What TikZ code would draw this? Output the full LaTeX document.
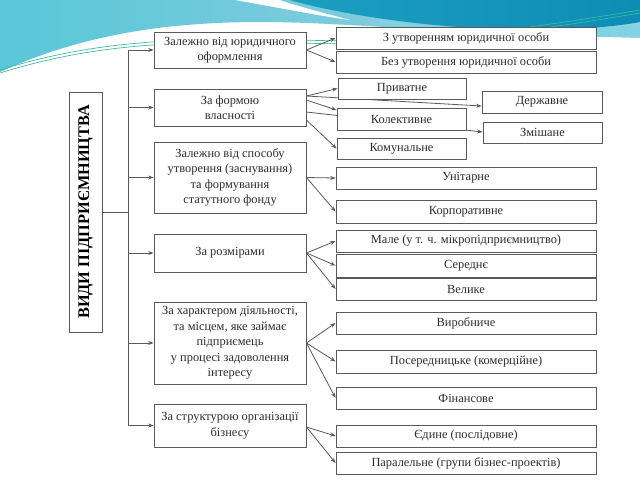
\documentclass[tikz,border=0pt]{standalone}
\usepackage{fontspec}
\setmainfont{Liberation Serif}
\usetikzlibrary{arrows.meta,calc}
\pgfdeclarelayer{back}
\pgfdeclarelayer{bg}
\pgfsetlayers{back,bg,main}
\definecolor{edge}{HTML}{5A5A5A}
\definecolor{txt}{HTML}{2E2E2E}
\definecolor{swA}{HTML}{58C7D8}
\definecolor{swB}{HTML}{9CCFE2}
\definecolor{swC}{HTML}{1C9EC3}
\definecolor{swD}{HTML}{0E8DB4}
\definecolor{swE}{HTML}{7FD3E3}
\definecolor{swL}{HTML}{3DB7A6}
\newcommand\bx[6]{\node[box, minimum width={(#4-#2)*0.75pt}, minimum height={(#5-#3)*0.75pt}] (#1) at ({(#2+#4)/2},{(#3+#5)/2}) {#6};}
\begin{document}
\begin{tikzpicture}[x=0.75pt,y=-0.75pt,
  box/.style={draw=edge, line width=0.7pt, fill=white, inner sep=0pt, align=center, text=txt, font=\fontsize{9.3}{11.6}\selectfont},
  arr/.style={draw=edge, line width=0.6pt, -{Stealth[length=4pt,width=3pt]}},
  ln/.style={draw=edge, line width=0.7pt}]
\useasboundingbox (0,0) rectangle (640,480);
\begin{pgfonlayer}{back}
\fill[white] (0,0) rectangle (640,480);
% decorative swoosh
\shade[left color=swA, right color=swB] (0,0) -- (0,72) .. controls (70,40) and (150,22) .. (260,22) .. controls (340,22) and (420,32) .. (640,38) -- (640,0) -- cycle;
\fill[swE] (380,20) .. controls (450,30) and (560,34) .. (640,24) -- (640,36) .. controls (560,38) and (450,32) .. (380,24) -- cycle;
\fill[white] (235,0) .. controls (280,8) and (320,16) .. (350,20) .. controls (320,12) and (290,4) .. (280,0) -- cycle;
\shade[left color=swC, right color=swD] (290,0) .. controls (330,12) and (420,28) .. (520,30) .. controls (580,30) and (620,26) .. (640,22) -- (640,0) -- cycle;
\draw[swL, line width=0.5pt] (0,70) .. controls (80,45) and (160,36) .. (300,40) .. controls (420,44) and (520,30) .. (640,10);
\draw[swL, line width=0.5pt] (0,73) .. controls (80,48) and (160,39) .. (300,43) .. controls (420,47) and (520,33) .. (640,13);
\end{pgfonlayer}

% main box
\bx{main}{69}{92}{102}{332}{}
\node[rotate=90, font=\bfseries\fontsize{12.2}{13}\selectfont, text=black, inner sep=0pt] (maintext) at (main.center) {ВИДИ ПІДПРИЄМНИЦТВА};

% level 1
\bx{b1}{154}{32}{306}{68}{Залежно від юридичного\\оформлення}
\bx{b2}{154}{89}{306}{126}{За формою\\власності}
\bx{b3}{154}{142}{306}{213}{Залежно від способу\\утворення (заснування)\\та формування\\статутного фонду}
\bx{b4}{154}{234}{306}{272}{За розмірами}
\bx{b5}{154}{302}{306}{384}{За характером діяльності,\\та місцем, яке займає\\підприємець\\у процесі задоволення\\інтересу}
\bx{b6}{154}{404}{306}{447}{За структурою організації\\бізнесу}

% level 2
\bx{c1}{336}{27}{596}{49}{З утворенням юридичної особи}
\bx{c2}{336}{51}{596}{73}{Без утворення юридичної особи}
\bx{p}{338}{78}{466}{99}{Приватне}
\bx{d}{482}{91}{602}{113}{Державне}
\bx{k}{337}{108}{466}{130}{Колективне}
\bx{z}{483}{122}{602}{143}{Змішане}
\bx{km}{337}{138}{466}{159}{Комунальне}
\bx{u}{336}{167}{596}{189}{Унітарне}
\bx{kr}{336}{200}{596}{223}{Корпоративне}
\bx{m}{336}{230}{596}{252}{Мале (у т. ч. мікропідприємництво)}
\bx{s}{336}{254}{596}{277}{Середнє}
\bx{v}{336}{278}{596}{300}{Велике}
\bx{vy}{336}{312}{596}{334}{Виробниче}
\bx{ps}{336}{350}{596}{373}{Посередницьке (комерційне)}
\bx{f}{336}{387}{596}{409}{Фінансове}
\bx{e}{336}{425}{596}{447}{Єдине (послідовне)}
\bx{pr}{336}{452}{596}{474}{Паралельне (групи бізнес-проектів)}

% trunk
\coordinate (j) at (128,212);
\draw[ln] (main.east) -- (j);
\draw[ln] (j |- b1.west) -- (j |- b6.west);
\foreach \b in {b1,b2,b3,b4,b5,b6} \draw[arr] (j |- \b.west) -- (\b.west);

% level 2 connectors
\draw[arr] (b1.east) -- (c1.west);
\draw[arr] (b1.east) -- (c2.west);
\draw[arr] (b2.east |- 0,96) -- (p.west);
\draw[arr] (b2.east |- 0,100) -- (k.west |- 0,110);
\draw[arr] (b2.east |- 0,120) -- (km.west);
\begin{pgfonlayer}{bg}
\draw[arr] (b2.east |- 0,96) -- (d.west |- 0,106);
\draw[arr] (b2.east |- 0,112) -- (z.west |- 0,132);
\end{pgfonlayer}
\draw[arr] (b3.east) -- (u.west);
\draw[arr] (b3.east) -- (kr.west);
\foreach \t in {m,s,v} \draw[arr] (b4.east) -- (\t.west);
\foreach \t in {vy,ps,f} \draw[arr] (b5.east) -- (\t.west);
\draw[arr] (b6.east |- 0,427) -- (e.west);
\draw[arr] (b6.east |- 0,427) -- (pr.west);
\end{tikzpicture}
\end{document}
